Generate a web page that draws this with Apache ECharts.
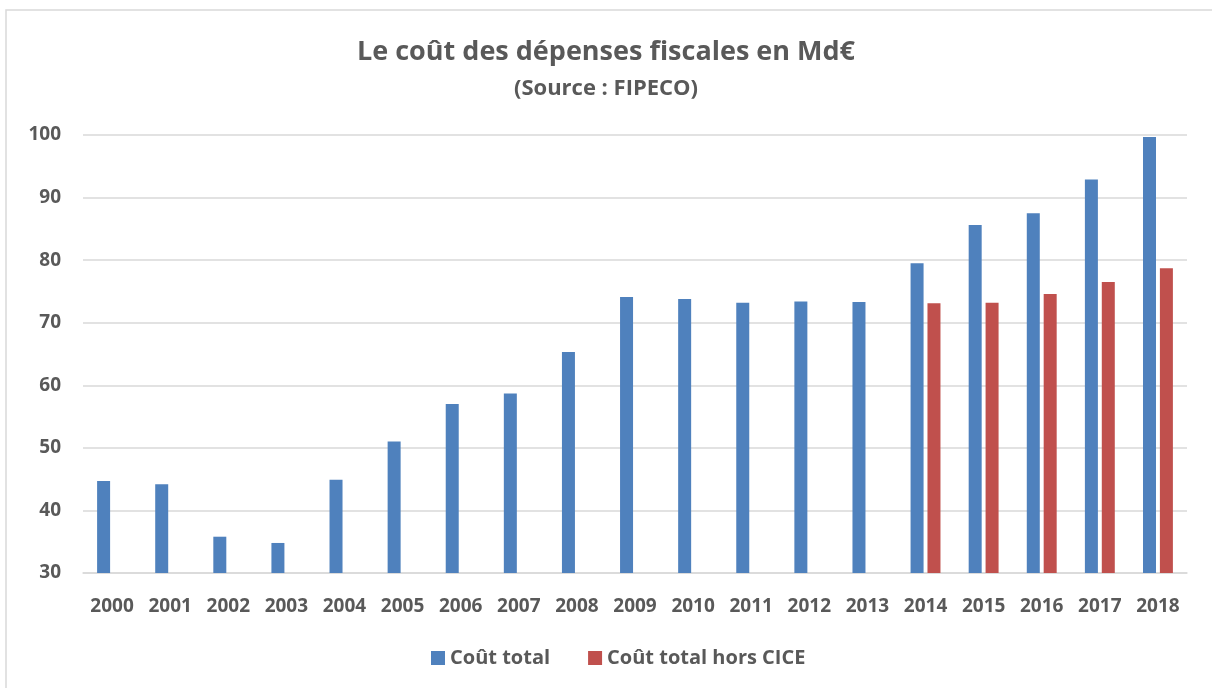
<!DOCTYPE html>
<html>
<head>
<meta charset="utf-8">
<script src="https://cdn.jsdelivr.net/npm/echarts@6/dist/echarts.min.js"></script>
<style>html,body{margin:0;padding:0;background:#fff}#c{width:1212px;height:688px}</style>
</head>
<body>
<div id="c"></div>
<script>
const years = ['2000','2001','2002','2003','2004','2005','2006','2007','2008','2009','2010','2011','2012','2013','2014','2015','2016','2017','2018'];
const coutTotal = [44.7,44.2,35.8,34.8,44.9,51.0,57.0,58.7,65.3,74.1,73.8,73.2,73.4,73.3,79.5,85.6,87.5,92.9,99.7];
const coutHorsCICE = [null,null,null,null,null,null,null,null,null,null,null,null,null,null,73.1,73.2,74.6,76.5,78.7];
const yTicks = {min:30, max:100, interval:10};

const FONT = '"Open Sans", "Noto Sans", sans-serif';
const TXT = '#595959';
const chart = echarts.init(document.getElementById('c'), null, {renderer:'canvas'});
chart.setOption({
  animation:false,
  backgroundColor:'#fff',
  graphic:[{type:'rect', shape:{x:6,y:10,width:1230,height:700}, style:{fill:'none', stroke:'#d9d9d9', lineWidth:1.5}, silent:true}],
  title:[
    {text:'Le coût des dépenses fiscales en Md€', left:'center', top:34, textStyle:{fontFamily:FONT, fontWeight:'bold', fontSize:27, color:TXT}},
    {text:'(Source : FIPECO)', left:'center', top:73, textStyle:{fontFamily:FONT, fontWeight:'bold', fontSize:22, color:TXT}}
  ],
  legend:{
    bottom:15, left:426, itemWidth:14, itemHeight:14, itemGap:38, icon:'rect',
    textStyle:{fontFamily:FONT, fontWeight:'bold', fontSize:20, color:TXT},
    data:['Coût total','Coût total hors CICE']
  },
  grid:{left:83, right:25, top:135, bottom:115, containLabel:false},
  xAxis:{
    type:'category', data:years,
    axisLine:{lineStyle:{color:'#d9d9d9', width:1.5}},
    axisTick:{show:false},
    axisLabel:{fontFamily:FONT, fontWeight:'bold', fontSize:19, color:TXT, margin:24, interval:0}
  },
  yAxis:{
    type:'value', min:yTicks.min, max:yTicks.max, interval:yTicks.interval,
    axisLine:{show:false}, axisTick:{show:false},
    splitLine:{lineStyle:{color:'#d9d9d9', width:1.5}},
    axisLabel:{fontFamily:FONT, fontWeight:'bold', fontSize:19, color:TXT, margin:22}
  },
  series:[
    {name:'Coût total', type:'bar', data:coutTotal, barWidth:13, barGap:'30%', itemStyle:{color:'#4F81BD'}},
    {name:'Coût total hors CICE', type:'bar', data:coutHorsCICE, barWidth:13, barGap:'30%', itemStyle:{color:'#C0504D'}}
  ]
});
</script>
</body>
</html>
